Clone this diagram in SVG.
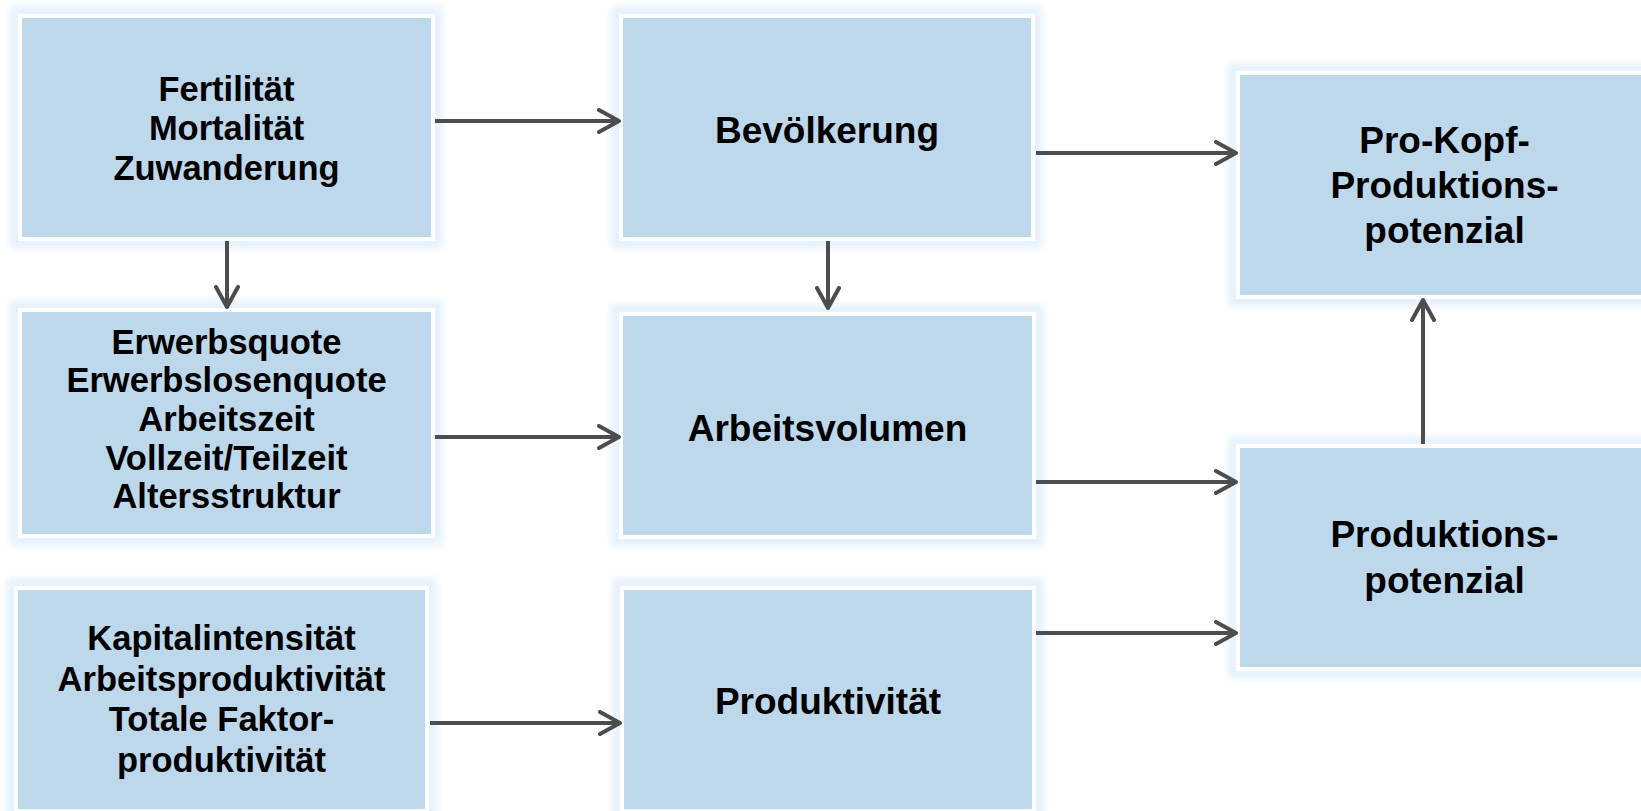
<svg xmlns="http://www.w3.org/2000/svg" width="1641" height="811" viewBox="0 0 1641 811">
<style>
.box{fill:#BED8EB;stroke:#FFFFFF;stroke-width:4}
.glow{fill:#E6F2FC;filter:url(#blur)}
.t{font-family:"Liberation Sans",Arial,sans-serif;font-weight:bold;fill:#000;text-anchor:middle}
.s{font-size:34.5px}
.m{font-size:37px}
.arr{stroke:#4D4D4D;stroke-width:4;fill:none;marker-end:url(#ah)}
</style>
<defs>
<filter id="blur" x="-10%" y="-10%" width="120%" height="120%"><feGaussianBlur stdDeviation="3"/></filter>
<marker id="ah" markerUnits="userSpaceOnUse" viewBox="0 0 26 26" markerWidth="26" markerHeight="26" refX="22" refY="13" orient="auto">
<path d="M2,2 L22,13 L2,24" fill="none" stroke="#4D4D4D" stroke-width="4" stroke-linecap="round" stroke-linejoin="round"/>
</marker>
</defs>
<rect width="1641" height="811" fill="#FFFFFF"/>

<g id="n-fertilitaet">
<rect class="glow" x="10" y="6" width="433" height="243"/>
<rect class="box" x="20" y="16" width="413" height="223"/>
<text class="t s"><tspan x="226.5" y="100.5">Fertilität</tspan><tspan x="226.5" y="140">Mortalität</tspan><tspan x="226.5" y="179.5">Zuwanderung</tspan></text>
</g>

<g id="n-erwerb">
<rect class="glow" x="10" y="300" width="433" height="246"/>
<rect class="box" x="20" y="310" width="413" height="226"/>
<text class="t s"><tspan x="226.5" y="353.6">Erwerbsquote</tspan><tspan x="226.5" y="392.3">Erwerbslosenquote</tspan><tspan x="226.5" y="431">Arbeitszeit</tspan><tspan x="226.5" y="469.7">Vollzeit/Teilzeit</tspan><tspan x="226.5" y="508.4">Altersstruktur</tspan></text>
</g>

<g id="n-kapital">
<rect class="glow" x="6" y="578" width="431" height="243"/>
<rect class="box" x="16" y="588" width="411" height="223"/>
<text class="t s"><tspan x="221.5" y="650">Kapitalintensität</tspan><tspan x="221.5" y="690.5">Arbeitsproduktivität</tspan><tspan x="221.5" y="731">Totale Faktor-</tspan><tspan x="221.5" y="771.5">produktivität</tspan></text>
</g>

<g id="n-bevoelkerung">
<rect class="glow" x="611" y="6" width="432" height="243"/>
<rect class="box" x="621" y="16" width="412" height="223"/>
<text class="t m" x="827" y="143">Bevölkerung</text>
</g>

<g id="n-arbeitsvolumen">
<rect class="glow" x="611" y="304" width="433" height="243"/>
<rect class="box" x="621" y="314" width="413" height="223"/>
<text class="t m" x="827.5" y="441">Arbeitsvolumen</text>
</g>

<g id="n-produktivitaet">
<rect class="glow" x="612" y="578" width="432" height="243"/>
<rect class="box" x="622" y="588" width="412" height="223"/>
<text class="t m" x="828" y="714">Produktivität</text>
</g>

<g id="n-prokopf">
<rect class="glow" x="1228" y="63" width="433" height="244"/>
<rect class="box" x="1238" y="73" width="413" height="224"/>
<text class="t m"><tspan x="1444.5" y="153">Pro-Kopf-</tspan><tspan x="1444.5" y="198">Produktions-</tspan><tspan x="1444.5" y="243">potenzial</tspan></text>
</g>

<g id="n-produktionspotenzial">
<rect class="glow" x="1228" y="436" width="433" height="243"/>
<rect class="box" x="1238" y="446" width="413" height="223"/>
<text class="t m"><tspan x="1444.5" y="547">Produktions-</tspan><tspan x="1444.5" y="593">potenzial</tspan></text>
</g>

<g id="connectors">
<line class="arr" x1="435" y1="121" x2="619" y2="121"/>
<line class="arr" x1="227" y1="241" x2="227" y2="307"/>
<line class="arr" x1="828" y1="241" x2="828" y2="308"/>
<line class="arr" x1="1036" y1="153" x2="1236" y2="153"/>
<line class="arr" x1="435" y1="437" x2="619" y2="437"/>
<line class="arr" x1="1036" y1="482" x2="1236" y2="482"/>
<line class="arr" x1="430" y1="723" x2="620" y2="723"/>
<line class="arr" x1="1036" y1="633" x2="1236" y2="633"/>
<line class="arr" x1="1423" y1="444" x2="1423" y2="300"/>
</g>
</svg>
